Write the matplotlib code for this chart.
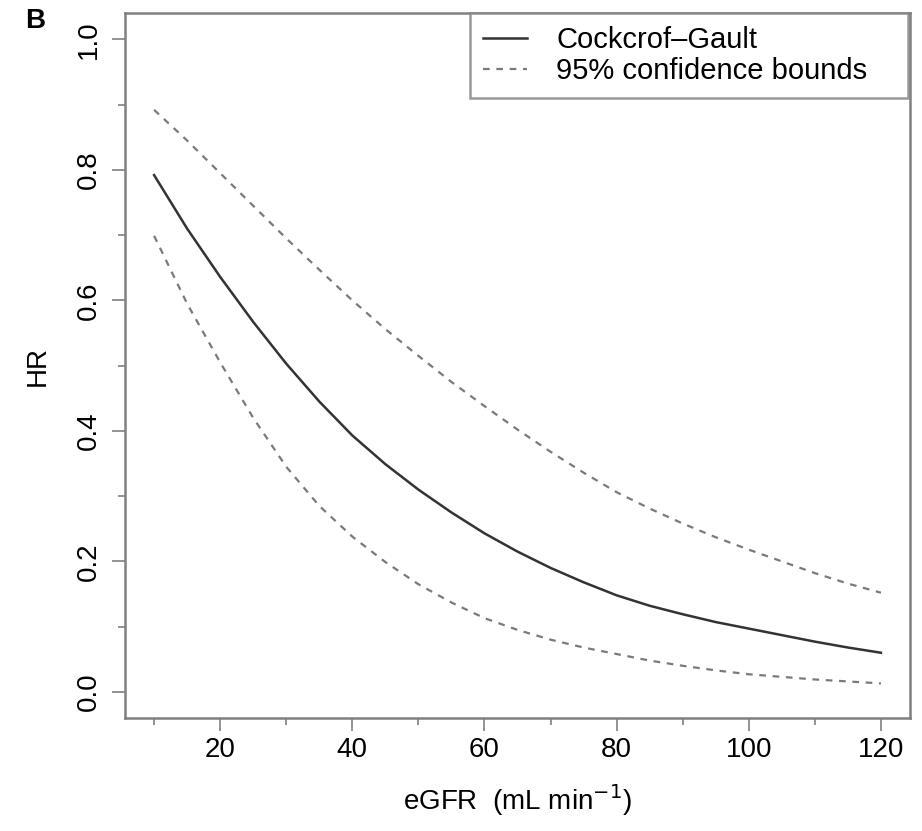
import numpy as np
import matplotlib.pyplot as plt

plt.rcParams['font.family'] = ['Liberation Sans', 'DejaVu Sans']

# values
egfr = [10, 15, 20, 25, 30, 35, 40, 45, 50, 55, 60, 65,
        70, 75, 80, 85, 90, 95, 100, 105, 110, 115, 120]
hr = [0.792, 0.710, 0.636, 0.567, 0.503, 0.445, 0.393, 0.349, 0.310, 0.275, 0.243, 0.215,
      0.190, 0.168, 0.148, 0.132, 0.119, 0.107, 0.097, 0.087, 0.077, 0.068, 0.060]
hr_upper = [0.892, 0.845, 0.795, 0.745, 0.695, 0.647, 0.600, 0.556, 0.515, 0.475, 0.438, 0.402,
            0.368, 0.336, 0.306, 0.281, 0.258, 0.237, 0.218, 0.200, 0.182, 0.166, 0.152]
hr_lower = [0.699, 0.595, 0.505, 0.420, 0.345, 0.285, 0.238, 0.199, 0.165, 0.137, 0.113, 0.095,
            0.080, 0.068, 0.058, 0.048, 0.040, 0.033, 0.027, 0.023, 0.019, 0.016, 0.013]

xticks = [20, 40, 60, 80, 100, 120]
xminor = [10, 30, 50, 70, 90, 110]
yticks = [0.0, 0.2, 0.4, 0.6, 0.8, 1.0]
yminor = [0.1, 0.3, 0.5, 0.7, 0.9]

fs = 20
grey = '#808080'

fig = plt.figure(figsize=(9.22, 8.31), dpi=100)
ax = fig.add_axes([0.1356, 0.136, 0.8514, 0.848])

ax.plot(egfr, hr, color='#333333', lw=1.8, label='Cockcrof\u2013Gault')
ax.plot(egfr, hr_upper, color='#7a7a7a', lw=1.6, ls=(0, (3, 3)), label='95% confidence bounds')
ax.plot(egfr, hr_lower, color='#7a7a7a', lw=1.6, ls=(0, (3, 3)))

ax.set_xlim(5.6, 124.4)
ax.set_ylim(-0.04, 1.04)
ax.set_xticks(xticks)
ax.set_xticks(xminor, minor=True)
ax.set_yticks(yticks)
ax.set_yticks(yminor, minor=True)
ax.set_xticklabels([str(v) for v in xticks], fontsize=fs)
ax.set_yticklabels(['%.1f' % v for v in yticks], fontsize=fs, rotation=90, va='center')

ax.tick_params(which='major', length=9.5, width=1.2, color=grey, pad=4)
ax.tick_params(which='minor', length=5, width=1.2, color=grey)
ax.tick_params(axis='y', which='major', pad=7)
for s in ax.spines.values():
    s.set_color(grey)
    s.set_linewidth(1.8)

ax.set_xlabel('eGFR  (mL min$^{-1}$)', fontsize=fs, labelpad=14)
ax.set_ylabel('HR', fontsize=fs, labelpad=18)

leg = ax.legend(loc='upper left', fontsize=fs + 1, frameon=True, fancybox=False,
                borderaxespad=0, handlelength=1.5, handletextpad=1.0,
                labelspacing=0.1, borderpad=0.45, mode='expand',
                bbox_to_anchor=(0.4395, 0.0, 0.558, 1.0))
leg.get_frame().set_edgecolor(grey)
leg.get_frame().set_linewidth(1.8)

fig.text(0.027, 0.975, 'B', fontsize=fs, fontweight='bold', va='center')

fig.savefig('out.png', dpi=100)
